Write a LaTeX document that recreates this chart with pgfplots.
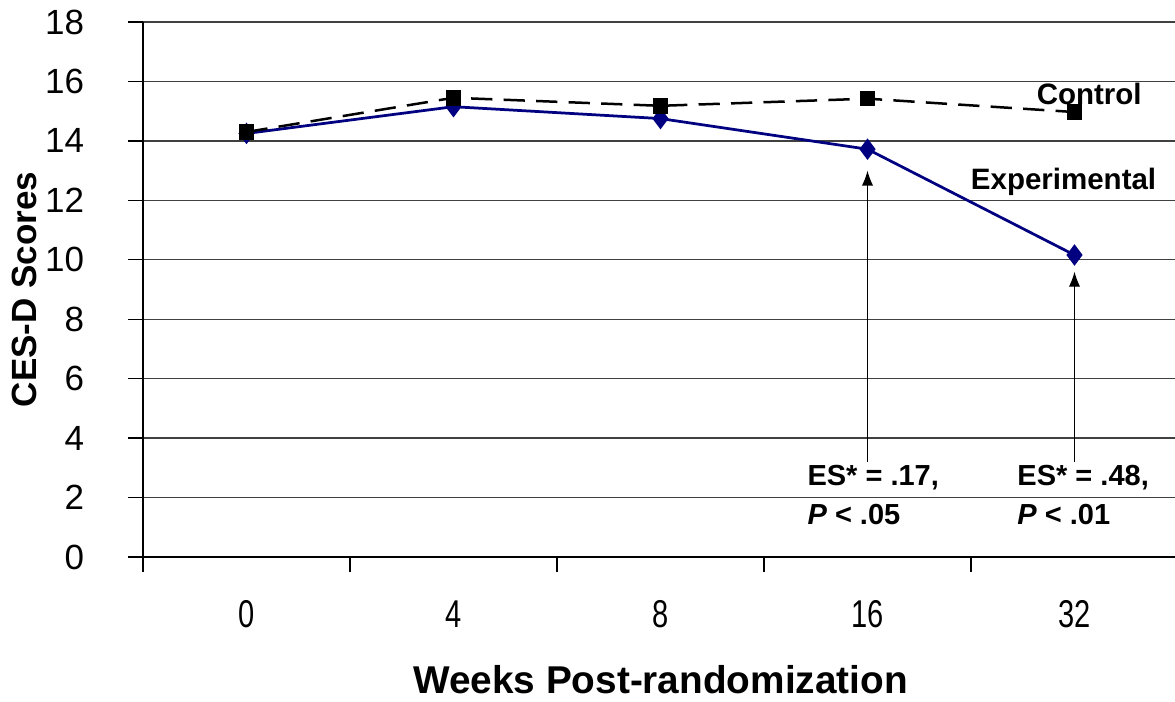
\documentclass[border=0pt]{standalone}
\usepackage{fontspec}
\setmainfont{Liberation Sans}
\usepackage{pgfplots}
\pgfplotsset{compat=1.18}
\usetikzlibrary{arrows.meta}
\definecolor{expblue}{RGB}{0,0,128}

\begin{document}
\begin{tikzpicture}
\begin{axis}[
  at={(0,0)}, anchor=south west,
  scale only axis,
  width=414pt, height=214pt,
  xmin=-0.5, xmax=4.5,
  ymin=0, ymax=18,
  axis x line=bottom, axis y line=left,
  axis line style={-, black, line width=0.6pt},
  xtick={0,1,2,3,4},
  xticklabels={0,4,8,16,32},
  major x tick style={draw=none},
  minor xtick={-0.5,0.5,1.5,2.5,3.5},
  minor tick length=6pt,
  xtick align=outside,
  ytick={0,2,...,18},
  ytick align=outside,
  major tick length=6pt,
  tick style={black, line width=0.5pt},
  ymajorgrids=true,
  grid style={black!75, line width=0.5pt},
  /pgf/number format/assume math mode=true,
  xticklabel style={yshift=-8pt, xscale=0.75, font=\fontsize{15.5}{17}\selectfont},
  yticklabel style={xshift=-14pt, font=\fontsize{14}{16}\selectfont},
  xlabel={\textbf{Weeks Post-randomization}},
  ylabel={\textbf{CES-D Scores}},
  every axis x label/.style={at={(axis description cs:0.5,-0.229)}, anchor=center,
    font=\fontsize{15.5}{17}\selectfont},
  every axis y label/.style={at={(axis description cs:-0.115,0.5)}, anchor=center,
    rotate=90, font=\fontsize{14}{16}\selectfont},
  clip=false,
]
% Experimental
\addplot[expblue, line width=1.1pt, mark=diamond*, mark size=3.4pt,
  mark options={solid, fill=expblue}]
  coordinates {(0,14.25) (1,15.15) (2,14.75) (3,13.72) (4,10.16)};
% Control
\addplot[black, line width=1pt, dash pattern=on 8.5pt off 4.5pt, mark=square*,
  mark size=2.6pt, mark options={solid, fill=black}]
  coordinates {(0,14.3) (1,15.45) (2,15.18) (3,15.42) (4,14.97)};

\node[anchor=west, font=\bfseries\fontsize{11.8}{14}\selectfont]
  at (axis cs:3.775,15.58) {Control};
\node[anchor=west, font=\bfseries\fontsize{11.8}{14}\selectfont]
  at (axis cs:3.457,12.62) {Experimental};

\draw[-{Latex[length=6pt,width=4.5pt]}, line width=0.5pt]
  (axis cs:3,3.2) -- (axis cs:3,13.0);
\draw[-{Latex[length=6pt,width=4.5pt]}, line width=0.5pt]
  (axis cs:4,3.2) -- (axis cs:4,9.6);

\node[anchor=north west, align=left, inner sep=0pt,
  font=\bfseries\fontsize{11.6}{15.5}\selectfont]
  at (axis cs:2.708,3.1) {ES* = .17,\\\textit{P} < .05};
\node[anchor=north west, align=left, inner sep=0pt,
  font=\bfseries\fontsize{11.6}{15.5}\selectfont]
  at (axis cs:3.722,3.1) {ES* = .48,\\\textit{P} < .01};
\end{axis}
\pgfresetboundingbox
\path[use as bounding box] (-57.2pt,-57.6pt) rectangle (412.8pt,222.8pt);
\end{tikzpicture}
\end{document}
